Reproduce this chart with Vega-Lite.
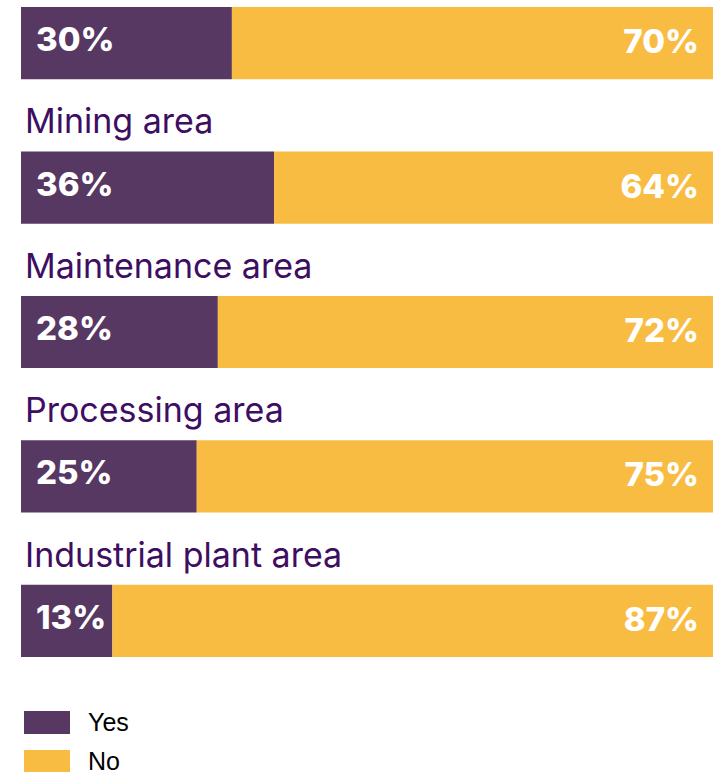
{
  "$schema": "https://vega.github.io/schema/vega-lite/v6.json",
  "autosize": "none",
  "width": 703,
  "height": 650,
  "padding": {"left": 21, "top": 7, "right": 0, "bottom": 115},
  "background": "white",
  "config": {"view": {"stroke": null}},
  "data": {
    "values": [
      {"area": "Total", "answer": "Yes", "seq": 1, "pct": 30},
      {"area": "Total", "answer": "No", "seq": 2, "pct": 70},
      {"area": "Mining area", "answer": "Yes", "seq": 1, "pct": 36},
      {"area": "Mining area", "answer": "No", "seq": 2, "pct": 64},
      {"area": "Maintenance area", "answer": "Yes", "seq": 1, "pct": 28},
      {"area": "Maintenance area", "answer": "No", "seq": 2, "pct": 72},
      {"area": "Processing area", "answer": "Yes", "seq": 1, "pct": 25},
      {"area": "Processing area", "answer": "No", "seq": 2, "pct": 75},
      {"area": "Industrial plant area", "answer": "Yes", "seq": 1, "pct": 13},
      {"area": "Industrial plant area", "answer": "No", "seq": 2, "pct": 87}
    ]
  },
  "transform": [{"calculate": "datum.pct + '%'", "as": "lab"}],
  "encoding": {
    "y": {
      "field": "area",
      "type": "nominal",
      "sort": null,
      "axis": null,
      "scale": {"paddingInner": 0.5, "paddingOuter": 0}
    }
  },
  "layer": [
    {
      "mark": {"type": "bar"},
      "encoding": {
        "x": {
          "field": "pct",
          "type": "quantitative",
          "stack": "zero",
          "axis": null,
          "scale": {"domain": [0, 100], "nice": false}
        },
        "color": {
          "field": "answer",
          "type": "nominal",
          "scale": {"domain": ["Yes", "No"], "range": ["#573862", "#F9BC43"]},
          "legend": {
            "title": null,
            "orient": "none",
            "legendX": 3,
            "legendY": 696,
            "direction": "vertical",
            "symbolType": "M-1,-0.5H1V0.5H-1Z",
            "symbolSize": 2116,
            "symbolStrokeWidth": 0,
            "symbolOpacity": 1,
            "clipHeight": 39,
            "rowPadding": 0,
            "labelOffset": 18,
            "labelFont": "Liberation Sans",
            "labelFontSize": 25,
            "labelColor": "#000000",
            "labelLimit": 200
          }
        },
        "order": {"field": "seq"}
      }
    },
    {
      "transform": [{"filter": "datum.answer == 'Yes'"}],
      "mark": {
        "type": "text",
        "align": "left",
        "baseline": "middle",
        "dx": 15,
        "dy": -2,
        "font": "Inter",
        "fontWeight": 800,
        "fontSize": 33,
        "color": "white"
      },
      "encoding": {
        "x": {"datum": 0, "type": "quantitative"},
        "text": {"field": "lab"}
      }
    },
    {
      "transform": [{"filter": "datum.answer == 'No'"}],
      "mark": {
        "type": "text",
        "align": "right",
        "baseline": "middle",
        "dx": -25,
        "dy": 0,
        "font": "Inter",
        "fontWeight": 800,
        "fontSize": 33,
        "color": "white"
      },
      "encoding": {
        "x": {"datum": 100, "type": "quantitative"},
        "text": {"field": "lab"}
      }
    },
    {
      "transform": [{"filter": "datum.answer == 'Yes' && datum.area != 'Total'"}],
      "mark": {
        "type": "text",
        "align": "left",
        "baseline": "alphabetic",
        "dx": 4,
        "dy": -18,
        "font": "Inter",
        "fontSize": 34,
        "color": "#3D0E61"
      },
      "encoding": {
        "x": {"datum": 0, "type": "quantitative"},
        "y": {"field": "area", "type": "nominal", "sort": null, "bandPosition": 0},
        "text": {"field": "area"}
      }
    }
  ]
}
